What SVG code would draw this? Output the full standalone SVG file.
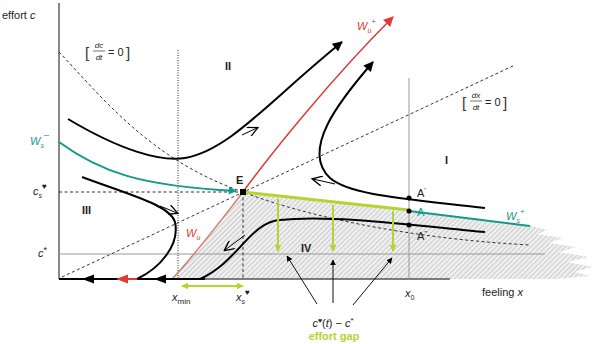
<svg xmlns="http://www.w3.org/2000/svg" width="600" height="344" viewBox="0 0 600 344">
<style>
text{font-family:"Liberation Sans",Arial,sans-serif;fill:#222;font-size:11px}
.it{font-style:italic}
.ax{stroke:#888;stroke-width:2;fill:none}
.thin{stroke:#999;stroke-width:1;fill:none}
.dash{stroke:#333;stroke-width:1;stroke-dasharray:3,2.5;fill:none}
.traj{stroke:#000;stroke-width:2;fill:none}
.ind{stroke:#000;stroke-width:1;fill:none}
.teal{stroke:#159a88;stroke-width:2;fill:none}
.yg{stroke:#b5d430;stroke-width:3;fill:none}
.ygv{stroke:#b5d430;stroke-width:2;fill:none}
.ann{stroke:#111;stroke-width:1;fill:none}
.br{font-size:15px;fill:#333}
.fr{font-size:8px;font-style:italic}
</style>
<defs>
<pattern id="hatch" width="3.5" height="3.5" patternUnits="userSpaceOnUse" patternTransform="rotate(45)">
<rect width="3.5" height="3.5" fill="#eeeeee"/>
<line x1="0" y1="0" x2="0" y2="3.5" stroke="#a8a8a8" stroke-width="0.9"/>
</pattern>
<marker id="ab" viewBox="0 0 10 10" refX="9" refY="5" markerWidth="6" markerHeight="6" orient="auto" markerUnits="userSpaceOnUse"><path d="M0,0 L10,5 L0,10 z" fill="#000"/></marker>
<marker id="abig" viewBox="0 0 10 10" refX="9" refY="5" markerWidth="12" markerHeight="10" orient="auto" markerUnits="userSpaceOnUse"><path d="M0,0 L10,5 L0,10 z" fill="#000"/></marker>
<marker id="ar" viewBox="0 0 10 10" refX="9" refY="5" markerWidth="12" markerHeight="10" orient="auto" markerUnits="userSpaceOnUse"><path d="M0,0 L10,5 L0,10 z" fill="#e03a34"/></marker>
<marker id="at" viewBox="0 0 10 10" refX="9" refY="5" markerWidth="10" markerHeight="8" orient="auto" markerUnits="userSpaceOnUse"><path d="M0,0 L10,5 L0,10 z" fill="#159a88"/></marker>
<marker id="ag" viewBox="0 0 10 10" refX="9" refY="5" markerWidth="7" markerHeight="7" orient="auto" markerUnits="userSpaceOnUse"><path d="M0,0 L10,5 L0,10 z" fill="#b5d430"/></marker>
<marker id="ags" viewBox="0 0 10 10" refX="1" refY="5" markerWidth="7" markerHeight="7" orient="auto" markerUnits="userSpaceOnUse"><path d="M10,0 L0,5 L10,10 z" fill="#b5d430"/></marker>
<marker id="aopen" viewBox="0 0 10 10" refX="9" refY="5" markerWidth="12" markerHeight="10" orient="auto" markerUnits="userSpaceOnUse"><path d="M0,0 L10,5 L0,10" fill="none" stroke="#000" stroke-width="1.3"/></marker>
</defs>

<g id="region-IV-shading">
<path d="M172,279 C195,255 225,215 243,192 L409,210 L530,226 L548,230 L537,234 L563,238 L549,243 L576,247 L559,252 L589,257 L567,262 L593,267 L574,272 L590,276 L555,279 Z" fill="url(#hatch)"/>
</g>

<g id="axes">
<line class="ax" x1="59" y1="3" x2="59" y2="279"/>
<line x1="59" y1="279" x2="450" y2="279" stroke="#555" stroke-width="1.5"/>
<text x="2" y="19">effort <tspan class="it">c</tspan></text>
<text x="482" y="296">feeling  <tspan class="it">x</tspan></text>
</g>

<g id="guides">
<line x1="178" y1="50" x2="178" y2="279" stroke="#222" stroke-width="1" stroke-dasharray="1,1.5"/>
<line class="thin" x1="409" y1="78" x2="409" y2="279"/>
<line class="thin" x1="59" y1="254" x2="545" y2="254"/>
<line class="dash" x1="59" y1="192" x2="243" y2="192"/>
<line class="dash" x1="243" y1="192" x2="243" y2="279"/>
</g>

<g id="isoclines">
<path class="dash" d="M59,52 C100,95 150,160 243,192 C300,214 400,238 530,245"/>
<line class="dash" x1="62" y1="277" x2="515" y2="65"/>
</g>

<g id="connectors">
<path d="M172,279 C195,255 225,215 243,192" stroke="#d08070" stroke-width="1.5" fill="none"/>
<path d="M243,192 C270,155 330,80 393,17" stroke="#e03a34" stroke-width="1.5" fill="none" marker-end="url(#ar)"/>
<path class="teal" d="M59,142 C100,172 140,186 236,191" marker-end="url(#at)"/>
<path class="teal" d="M409,211 L530,226"/>
<line class="yg" x1="243" y1="192" x2="409" y2="210"/>
<line x1="59" y1="279" x2="205" y2="279" stroke="#000" stroke-width="2"/>
<path d="M82,279 L94,274.5 L94,283.5 Z" fill="#000"/>
<path d="M154,279 L166,274.5 L166,283.5 Z" fill="#000"/>
<path d="M116,279 L128,274.5 L128,283.5 Z" fill="#e03a34"/>
<line x1="118" y1="279" x2="138" y2="279" stroke="#e03a34" stroke-width="2"/>
<path class="traj" d="M68,119 C120,150 160,162 185,158 C230,150 270,100 342,42" marker-end="url(#abig)"/>
<path class="traj" d="M485,208 C400,198 350,195 330,178 C300,150 340,100 373,62" marker-end="url(#abig)"/>
<path class="traj" d="M82,177 C130,195 170,205 175,222 C180,245 160,268 137,279"/>
<path class="traj" d="M485,232 C420,226 330,214 280,220 C250,222 238,262 200,279"/>
<line class="ind" x1="242" y1="135" x2="257" y2="128" marker-end="url(#aopen)"/>
<line class="ind" x1="160" y1="206" x2="177" y2="213" marker-end="url(#aopen)"/>
<line class="ind" x1="335" y1="184" x2="313" y2="179" marker-end="url(#aopen)"/>
<line class="ind" x1="245" y1="235" x2="225" y2="250" marker-end="url(#aopen)"/>
<line class="ygv" x1="278" y1="199" x2="278" y2="251" marker-end="url(#ag)"/>
<line class="ygv" x1="333" y1="205" x2="333" y2="251" marker-end="url(#ag)"/>
<line class="ygv" x1="393" y1="211" x2="393" y2="251" marker-end="url(#ag)"/>
<line class="ygv" x1="182" y1="286" x2="243" y2="286" marker-start="url(#ags)" marker-end="url(#ag)"/>
<line class="ann" x1="317" y1="304" x2="287" y2="256" marker-end="url(#ab)"/>
<line class="ann" x1="333" y1="303" x2="333" y2="260" marker-end="url(#ab)"/>
<line class="ann" x1="353" y1="305" x2="392" y2="258" marker-end="url(#ab)"/>
</g>

<g id="E">
<rect x="240" y="189" width="6" height="6" fill="#000"/>
<text x="236" y="184" font-weight="bold" font-size="12">E</text>
</g>

<g id="points-A">
<circle cx="409" cy="198" r="2.5" fill="#000"/>
<circle cx="409" cy="211" r="2.5" fill="#000"/>
<circle cx="409" cy="225" r="2.5" fill="#000"/>
<text x="417" y="197">A<tspan font-size="8" dy="-4">'</tspan></text>
<text x="417" y="216" style="fill:#159a88">A</text>
<text x="417" y="240">A<tspan font-size="8" dy="-4">''</tspan></text>
</g>

<g id="region-labels">
<text x="82" y="214" font-weight="bold">III</text>
<text x="225" y="70" font-weight="bold">II</text>
<text x="445" y="164" font-weight="bold">I</text>
<text x="301" y="252" font-weight="bold" font-size="12">IV</text>
</g>

<g id="isocline-labels">
<text x="85" y="58" class="br">[</text>
<text x="99" y="48" class="fr" text-anchor="middle">dc</text>
<line x1="93" y1="51" x2="105" y2="51" stroke="#333" stroke-width="0.7"/>
<text x="99" y="60" class="fr" text-anchor="middle">dt</text>
<text x="108" y="56" font-size="10">= 0</text>
<text x="126" y="58" class="br">]</text>
<text x="462" y="108" class="br">[</text>
<text x="476" y="98" class="fr" text-anchor="middle">dx</text>
<line x1="470" y1="101" x2="482" y2="101" stroke="#333" stroke-width="0.7"/>
<text x="476" y="110" class="fr" text-anchor="middle">dt</text>
<text x="485" y="106" font-size="10">= 0</text>
<text x="503" y="108" class="br">]</text>
</g>

<g id="manifold-labels">
<text x="357" y="30" class="it" font-size="12" style="fill:#e03a34">W<tspan font-size="7" dy="3">u</tspan><tspan font-size="8" dy="-9">+</tspan></text>
<text x="186" y="237" class="it" font-size="12" style="fill:#e03a34">W<tspan font-size="7" dy="3">u</tspan></text>
<text x="30" y="145" class="it" font-size="12" style="fill:#159a88">W<tspan font-size="7" dy="3">s</tspan><tspan font-size="9" dy="-10" font-style="normal">–</tspan></text>
<text x="506" y="220" class="it" font-size="12" style="fill:#159a88">W<tspan font-size="7" dy="3">s</tspan><tspan font-size="8" dy="-9" font-style="normal">+</tspan></text>
</g>

<g id="axis-labels">
<text x="33" y="195" class="it">c<tspan font-size="7" dy="3">s</tspan><tspan font-size="8" dy="-9" font-style="normal">♥</tspan></text>
<text x="38" y="257" class="it">c<tspan font-size="9" dy="-4" font-style="normal">*</tspan></text>
<text x="172" y="301" class="it">x<tspan font-size="8" dy="3" font-style="normal">min</tspan></text>
<text x="236" y="301" class="it">x<tspan font-size="7" dy="3">s</tspan><tspan font-size="8" dy="-9" font-style="normal">♥</tspan></text>
<text x="405" y="297" class="it">x<tspan font-size="7" dy="3" font-style="normal">0</tspan></text>
</g>

<g id="gap-label">
<text x="333" y="327" text-anchor="middle" class="it">c<tspan font-size="7" dy="-4" font-style="normal">♥</tspan><tspan dy="4" font-style="normal">(</tspan>t<tspan font-style="normal">) − </tspan>c<tspan font-size="8" dy="-4" font-style="normal">*</tspan></text>
<text x="334" y="340" text-anchor="middle" font-weight="bold" style="fill:#b5d430">effort gap</text>
</g>
</svg>
